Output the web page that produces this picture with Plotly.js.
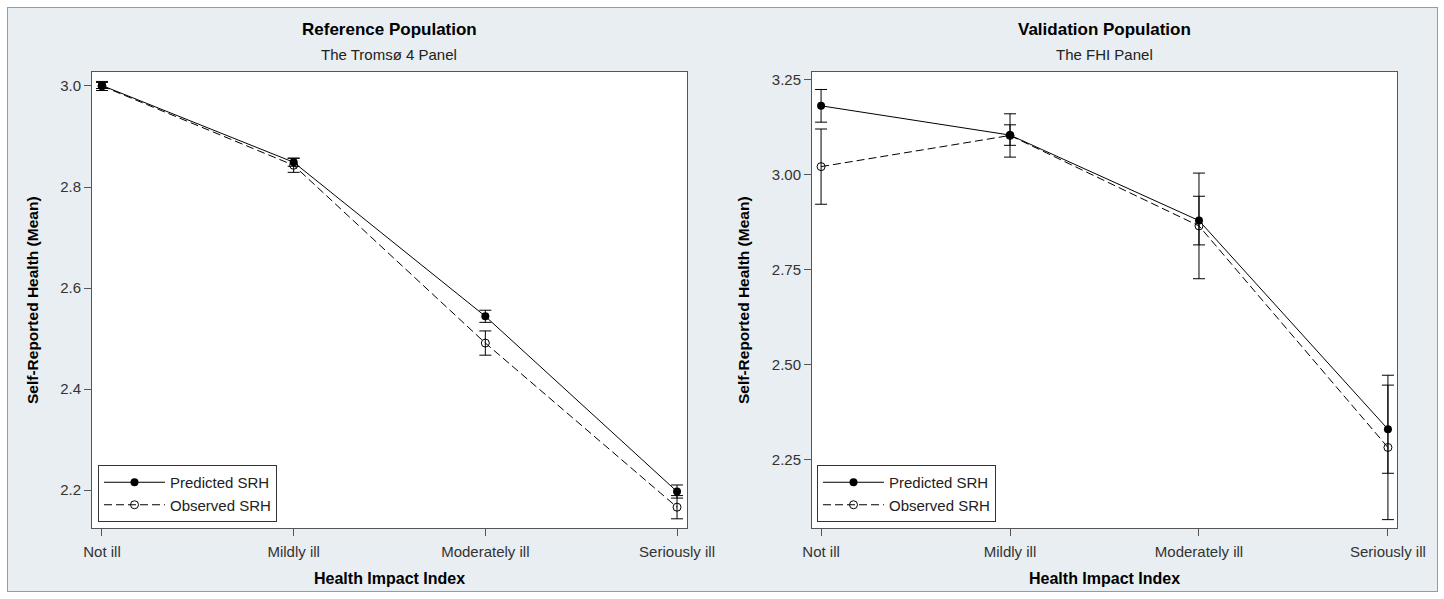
<!DOCTYPE html>
<html>
<head>
<meta charset="utf-8">
<script src="https://cdn.plot.ly/plotly-3.0.1.min.js"></script>
<style>
  html, body { margin: 0; padding: 0; background: #ffffff; }
  #chart { position: absolute; left: 7px; top: 7px; width: 1429px; height: 583px; border: 1px solid #9a9a9a; background: #e8eef1; }
</style>
</head>
<body>
<div id="chart"></div>
<script>
// Categories
const categories = ["Not ill", "Mildly ill", "Moderately ill", "Seriously ill"];

// Reference population (Tromsø 4)
const refPredicted = [3.001, 2.849, 2.544, 2.197];
const refPredictedErr = [0.006, 0.008, 0.012, 0.013];
const refObserved = [3.000, 2.843, 2.491, 2.166];
const refObservedErr = [0.009, 0.014, 0.024, 0.023];

// Validation population (FHI)
const valPredicted = [3.182, 3.105, 2.880, 2.331];
const valPredictedErr = [0.043, 0.027, 0.064, 0.116];
const valObserved = [3.022, 3.104, 2.866, 2.283];
const valObservedErr = [0.099, 0.057, 0.139, 0.190];

const refTicks = [2.2, 2.4, 2.6, 2.8, 3.0];
const valTicks = [2.25, 2.50, 2.75, 3.00, 3.25];

const FONT = "Liberation Sans, Arial, sans-serif";
const xIdx = categories.map((c, i) => i);

function predTrace(y, err, xa, ya, lg) {
  return {
    x: xIdx, y: y, type: "scatter", mode: "lines+markers", name: "Predicted SRH",
    xaxis: xa, yaxis: ya, legend: lg,
    line: {color: "#000", width: 1},
    marker: {symbol: "circle", size: 8, color: "#000"},
    error_y: {type: "data", array: err, visible: true, color: "#000", thickness: 1, width: 6}
  };
}
function obsTrace(y, err, xa, ya, lg) {
  return {
    x: xIdx, y: y, type: "scatter", mode: "lines+markers", name: "Observed SRH",
    xaxis: xa, yaxis: ya, legend: lg,
    line: {color: "#000", width: 1, dash: "8px,4px"},
    marker: {symbol: "circle-open", size: 8, color: "#000", line: {width: 1, color: "#000"}},
    error_y: {type: "data", array: err, visible: true, color: "#000", thickness: 1, width: 6}
  };
}

const data = [
  predTrace(refPredicted, refPredictedErr, "x", "y", "legend"),
  obsTrace(refObserved, refObservedErr, "x", "y", "legend"),
  predTrace(valPredicted, valPredictedErr, "x2", "y2", "legend2"),
  obsTrace(valObserved, valObservedErr, "x2", "y2", "legend2")
];

const W = 1429, H = 583;
const axisCommon = {
  showgrid: false, zeroline: false, showline: true, mirror: true,
  linecolor: "#555", linewidth: 1, ticks: "outside", ticklen: 7, tickcolor: "#555",
  tickfont: {family: FONT, size: 15, color: "#333"}, fixedrange: true
};

const xCommon = Object.assign({}, axisCommon, {
  tickmode: "array", tickvals: xIdx, ticktext: categories, ticklabelstandoff: 3
});

const legendCommon = {
  bgcolor: "#ffffff", bordercolor: "#333", borderwidth: 1,
  font: {family: FONT, size: 15, color: "#222"},
  xanchor: "left", yanchor: "bottom", tracegroupgap: 0, itemwidth: 61
};

const layout = {
  width: W, height: H,
  margin: {l: 0, r: 0, t: 0, b: 0, pad: 0},
  paper_bgcolor: "#e8eef1", plot_bgcolor: "#ffffff",
  font: {family: FONT, color: "#000"},
  showlegend: true,
  xaxis: Object.assign({}, xCommon, {domain: [84 / W, 679 / W], range: [-0.052, 3.052], anchor: "y"}),
  yaxis: Object.assign({}, axisCommon, {domain: [63 / H, 519 / H], range: [2.1248, 3.0277], anchor: "x",
    tickmode: "array", tickvals: refTicks, tickformat: ".1f"}),
  xaxis2: Object.assign({}, xCommon, {domain: [804 / W, 1389 / W], range: [-0.048, 3.048], anchor: "y2"}),
  yaxis2: Object.assign({}, axisCommon, {domain: [63 / H, 519 / H], range: [2.071, 3.271], anchor: "x2",
    tickmode: "array", tickvals: valTicks, tickformat: ".2f"}),
  legend: Object.assign({}, legendCommon, {x: 90 / W, y: 69 / H}),
  legend2: Object.assign({}, legendCommon, {x: 809 / W, y: 69 / H}),
  annotations: [
    {text: "<b>Reference Population</b>", xref: "paper", yref: "paper", x: 381.5 / W, y: (H - 22) / H,
     showarrow: false, xanchor: "center", yanchor: "middle", font: {family: FONT, size: 17, color: "#000"}},
    {text: "The Tromsø 4 Panel", xref: "paper", yref: "paper", x: 381.5 / W, y: (H - 47) / H,
     showarrow: false, xanchor: "center", yanchor: "middle", font: {family: FONT, size: 15, color: "#222"}},
    {text: "<b>Validation Population</b>", xref: "paper", yref: "paper", x: 1096.5 / W, y: (H - 22) / H,
     showarrow: false, xanchor: "center", yanchor: "middle", font: {family: FONT, size: 17, color: "#000"}},
    {text: "The FHI Panel", xref: "paper", yref: "paper", x: 1096.5 / W, y: (H - 47) / H,
     showarrow: false, xanchor: "center", yanchor: "middle", font: {family: FONT, size: 15, color: "#222"}},
    {text: "<b>Health Impact Index</b>", xref: "paper", yref: "paper", x: 381.5 / W, y: 13 / H,
     showarrow: false, xanchor: "center", yanchor: "middle", font: {family: FONT, size: 16, color: "#000"}},
    {text: "<b>Health Impact Index</b>", xref: "paper", yref: "paper", x: 1096.5 / W, y: 13 / H,
     showarrow: false, xanchor: "center", yanchor: "middle", font: {family: FONT, size: 16, color: "#000"}},
    {text: "<b>Self-Reported Health (Mean)</b>", xref: "paper", yref: "paper", x: 24 / W, y: (H - 292) / H,
     showarrow: false, textangle: -90, xanchor: "center", yanchor: "middle", font: {family: FONT, size: 15.5, color: "#000"}},
    {text: "<b>Self-Reported Health (Mean)</b>", xref: "paper", yref: "paper", x: 735 / W, y: (H - 292) / H,
     showarrow: false, textangle: -90, xanchor: "center", yanchor: "middle", font: {family: FONT, size: 15.5, color: "#000"}}
  ]
};

Plotly.newPlot("chart", data, layout, {displayModeBar: false, staticPlot: true});
</script>
</body>
</html>
